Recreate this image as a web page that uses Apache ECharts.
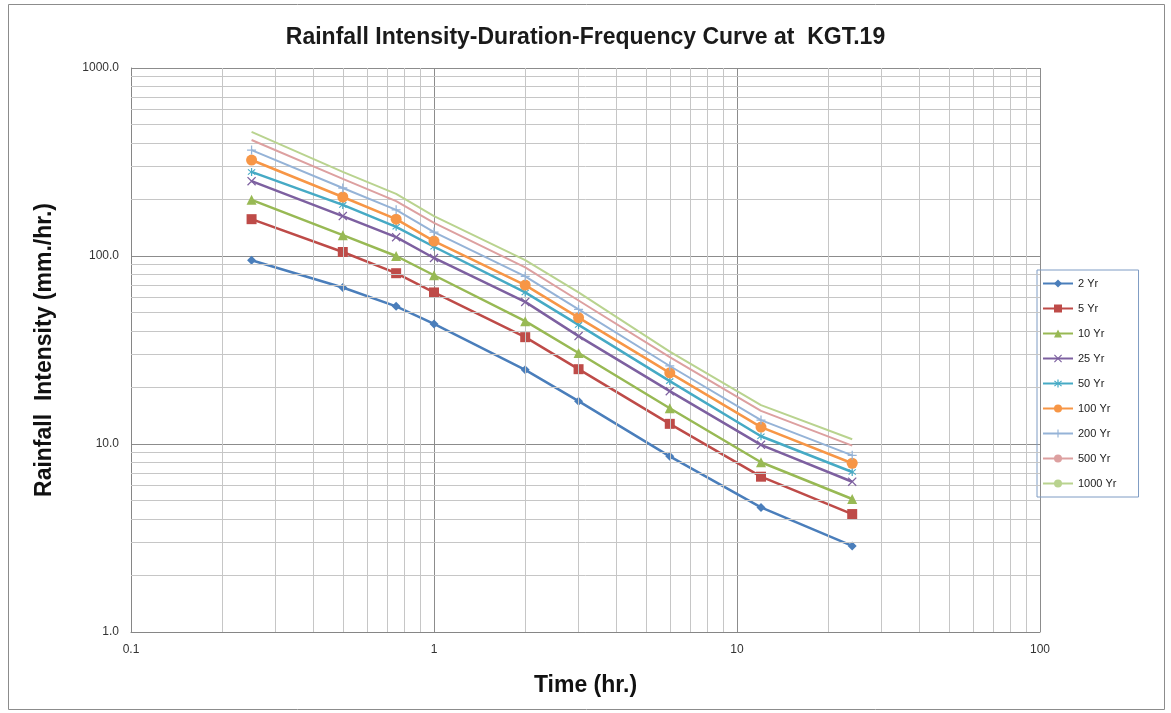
<!DOCTYPE html>
<html>
<head>
<meta charset="UTF-8">
<title>IDF Curve KGT.19</title>
<script type="text/javascript" src="https://cdn.jsdelivr.net/npm/echarts@6/dist/echarts.min.js"></script>
<style>
html, body { margin: 0; padding: 0; background: #fff; }
#main { width: 1171px; height: 713px; }
</style>
</head>
<body>
<div id="main"></div>
<script type="text/javascript">
// durations (hr.)
var durations = [0.25, 0.5, 0.75, 1, 2, 3, 6, 12, 24];
// return periods
var periods = ['2 Yr', '5 Yr', '10 Yr', '25 Yr', '50 Yr', '100 Yr', '200 Yr', '500 Yr', '1000 Yr'];
// rainfall intensity (mm./hr.)
var yr2    = [95, 68, 54, 43.5, 24.8, 16.9, 8.6, 4.6, 2.87];
var yr5    = [157, 105, 81, 64, 37, 25, 12.8, 6.7, 4.24];
var yr10   = [199, 129, 100, 79, 45, 30.5, 15.5, 8.0, 5.1];
var yr25   = [250, 163, 126, 97.6, 57, 37.5, 19.1, 9.9, 6.3];
var yr50   = [280, 187, 143, 112, 64, 43, 21.6, 11.0, 7.1];
var yr100  = [324, 206, 157, 120, 70, 47, 23.9, 12.3, 7.9];
var yr200  = [366, 230, 176, 134, 78, 52, 26, 13.4, 8.7];
var yr500  = [414, 257, 196, 150, 87, 58, 29, 15.0, 9.8];
var yr1000 = [457, 280, 214, 163, 95, 64, 31, 16.1, 10.6];
// axis decades
var xDecades = [0.1, 1, 10];
var yDecades = [1, 10, 100];
var minorSteps = [2, 3, 4, 5, 6, 7, 8, 9];

var allValues = [yr2, yr5, yr10, yr25, yr50, yr100, yr200, yr500, yr1000];
var colors = ['#4A7EBB', '#BE4B48', '#98B954', '#7D60A0', '#46AAC5', '#F79646', '#95B3D7', '#DDA0A0', '#B9D38F'];
var symbols = [
  'diamond', 'rect', 'triangle',
  'path://M0,1L1,0L5,4L9,0L10,1L6,5L10,9L9,10L5,6L1,10L0,9L4,5Z',
  'path://M4.3,0H5.7V4L8.6,1.2L9.6,2.2L6.3,5L9.6,7.8L8.6,8.8L5.7,6V10H4.3V6L1.4,8.8L0.4,7.8L3.7,5L0.4,2.2L1.4,1.2L4.3,4Z',
  'circle',
  'path://M4.3,0H5.7V4.3H10V5.7H5.7V10H4.3V5.7H0V4.3H4.3Z',
  'none', 'none'
];
var symbolSizes = [9, 10, 10, 9, 8, 11, 9, 0, 0];
var lineWidths = [2.5, 2.5, 2.5, 2.5, 2.5, 2.5, 2, 2, 2];

var myChart = echarts.init(document.getElementById('main'), null, {renderer: 'canvas'});

// minor grid lines at 2..9 of each decade
var minorLines = [];
xDecades.forEach(function (d) {
  minorSteps.forEach(function (m) { minorLines.push({xAxis: +(d * m).toPrecision(3)}); });
});
yDecades.forEach(function (d) {
  minorSteps.forEach(function (m) { minorLines.push({yAxis: +(d * m).toPrecision(3)}); });
});

var series = [{
  name: 'grid',
  type: 'line',
  data: [],
  z: 1,
  silent: true,
  markLine: {
    silent: true,
    symbol: 'none',
    animation: false,
    label: {show: false},
    lineStyle: {color: '#c6c6c6', width: 1, type: 'solid'},
    emphasis: {disabled: true},
    data: minorLines
  }
}];

periods.forEach(function (p, i) {
  series.push({
    name: p,
    type: 'line',
    z: 3 + i,
    data: durations.map(function (d, k) { return [d, allValues[i][k]]; }),
    symbol: symbols[i],
    symbolSize: symbolSizes[i],
    showSymbol: symbols[i] !== 'none',
    color: colors[i],
    lineStyle: {width: lineWidths[i], color: colors[i]},
    itemStyle: {color: colors[i]},
    animation: false
  });
});

var option = {
  backgroundColor: '#ffffff',
  animation: false,
  title: {
    text: 'Rainfall Intensity-Duration-Frequency Curve at  KGT.19',
    left: 'center',
    top: 21,
    textStyle: {fontFamily: 'Liberation Sans', fontSize: 23, fontWeight: 'bold', color: '#1a1a1a'}
  },
  graphic: [{
    type: 'rect',
    shape: {x: 8.5, y: 4.5, width: 1156, height: 705},
    style: {fill: 'none', stroke: '#8c8c8c', lineWidth: 1},
    silent: true
  }],
  legend: {
    orient: 'vertical',
    left: 1037,
    top: 270,
    data: periods,
    itemWidth: 30,
    itemHeight: 10,
    itemGap: 14,
    padding: [8, 22, 8, 5],
    borderColor: '#7f9cc4',
    borderWidth: 1,
    textStyle: {fontFamily: 'Liberation Sans', fontSize: 11, color: '#222'}
  },
  grid: {left: 131, right: 131, top: 68, bottom: 81},
  xAxis: {
    type: 'log',
    logBase: 10,
    min: 0.1,
    max: 100,
    name: 'Time (hr.)',
    nameLocation: 'middle',
    nameGap: 42,
    nameTextStyle: {fontFamily: 'Liberation Sans', fontSize: 23, fontWeight: 'bold', color: '#111'},
    axisLine: {show: true, lineStyle: {color: '#868686'}},
    axisTick: {show: false},
    axisLabel: {
      margin: 12,
      fontFamily: 'Liberation Sans',
      fontSize: 12,
      color: '#333',
      formatter: function (v) { return String(+v.toPrecision(3)); }
    },
    splitLine: {show: true, lineStyle: {color: '#8c8c8c', width: 1}}
  },
  yAxis: {
    type: 'log',
    logBase: 10,
    min: 1,
    max: 1000,
    name: 'Rainfall  Intensity (mm./hr.)',
    nameLocation: 'middle',
    nameGap: 75,
    nameTextStyle: {fontFamily: 'Liberation Sans', fontSize: 23, fontWeight: 'bold', color: '#111'},
    axisLine: {show: true, lineStyle: {color: '#868686'}},
    axisTick: {show: false},
    axisLabel: {
      margin: 12,
      fontFamily: 'Liberation Sans',
      fontSize: 12,
      color: '#333',
      formatter: function (v) { return (+v.toPrecision(3)).toFixed(1); }
    },
    splitLine: {show: true, lineStyle: {color: '#8c8c8c', width: 1}}
  },
  series: series
};

myChart.setOption(option);
</script>
</body>
</html>
